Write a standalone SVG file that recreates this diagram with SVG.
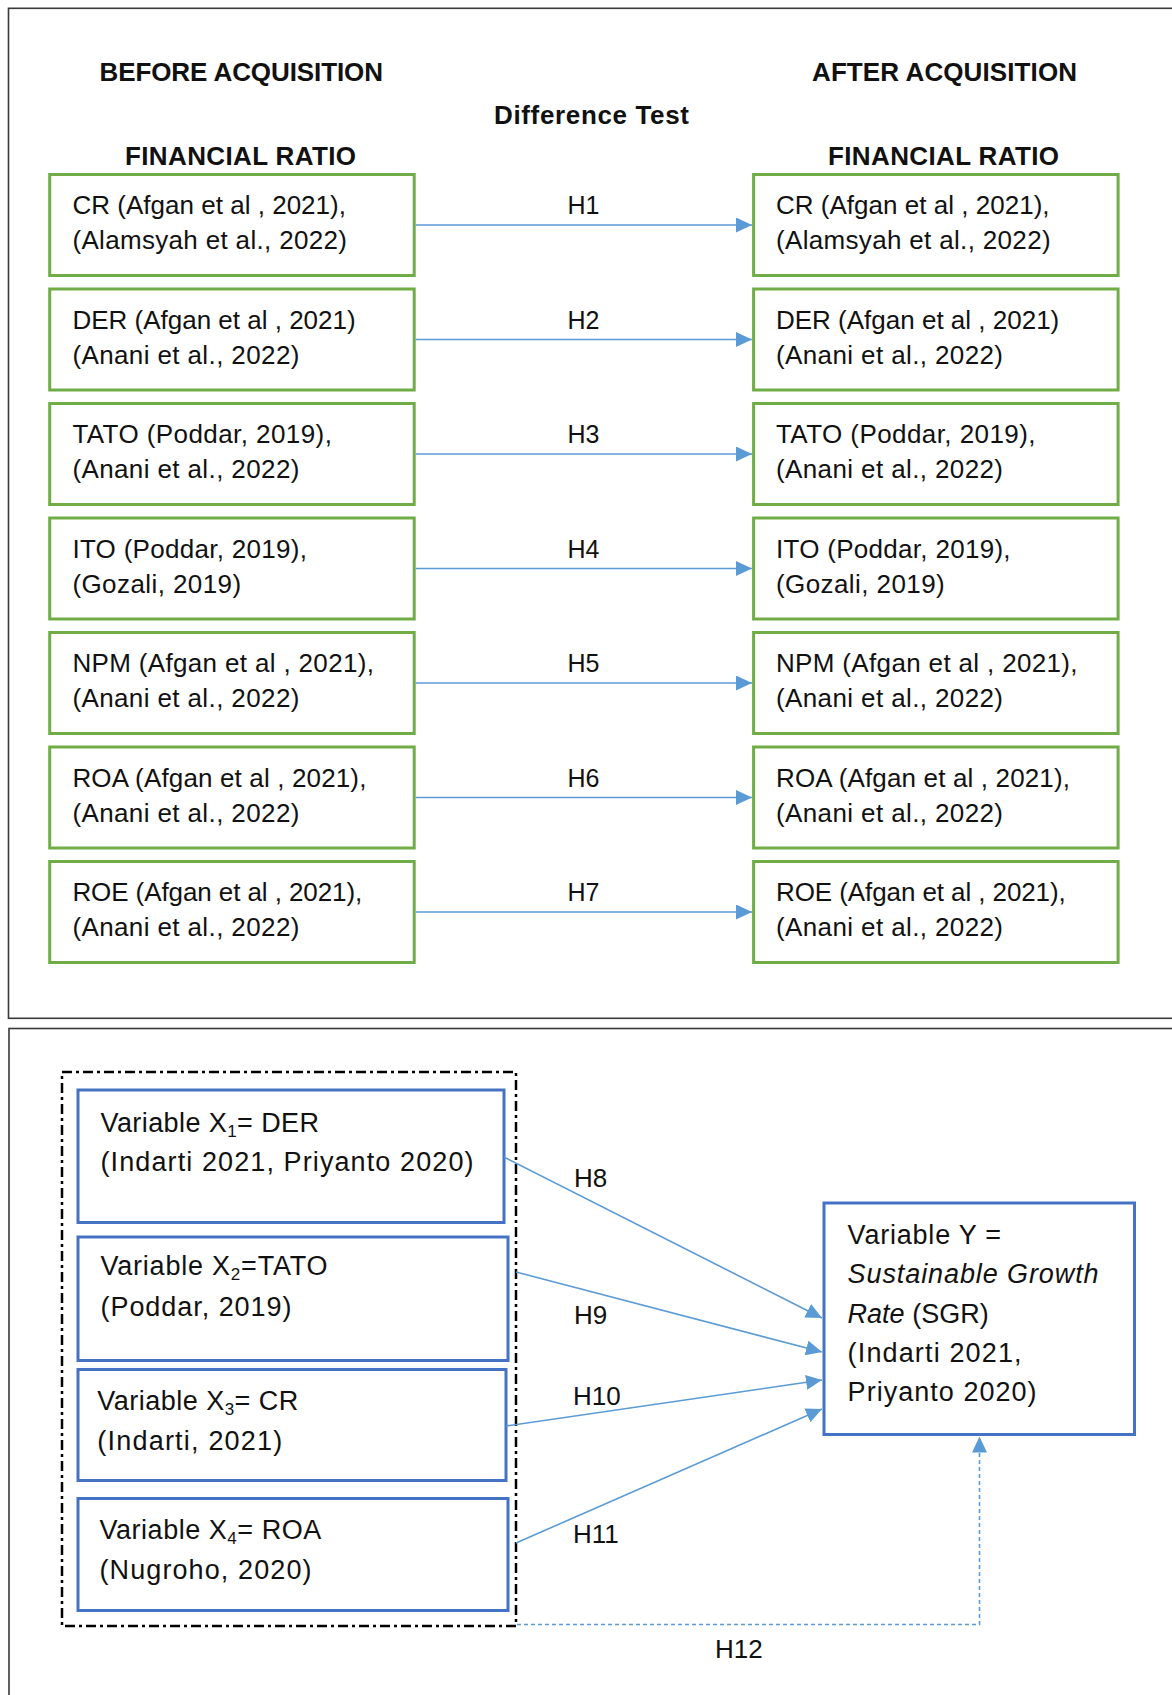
<svg xmlns="http://www.w3.org/2000/svg" width="1172" height="1695" viewBox="0 0 1172 1695">
<style>
 text { font-family: "Liberation Sans", Arial, sans-serif; fill:#111; }
 .title { font-size:26px; font-weight:bold; }
 .gt { font-size:26px; }
 .bt { font-size:27px; }
 .hl { font-size:25px; }
 .hb { font-size:26px; }
 .it { font-style:italic; }
 .gbox { fill:#fff; stroke:#70AD47; stroke-width:3; }
 .bbox { fill:#fff; stroke:#4472C4; stroke-width:3; }
 .frame { fill:none; stroke:#3a3a3a; stroke-width:1.6; }
 .conn { stroke:#5B9BD5; stroke-width:1.6; fill:none; marker-end:url(#arr); }
 .dashed { stroke-dasharray:4 3; }
 .grp { fill:none; stroke:#000; stroke-width:2.5; stroke-dasharray:10 4 3 4; }
</style>
<defs>
 <marker id="arr" viewBox="0 0 16 15" refX="16" refY="7.5" markerWidth="16" markerHeight="15" markerUnits="userSpaceOnUse" orient="auto">
  <path d="M0,0 L16,7.5 L0,15 z" fill="#5B9BD5"/>
 </marker>
</defs>
<rect width="1172" height="1695" fill="#fff"/>

<g id="frames">
 <rect class="frame" x="8.5" y="8.3" width="1300" height="1010"/>
 <rect class="frame" x="9" y="1028.5" width="1300" height="800"/>
</g>

<g id="headings">
 <text class="title" x="99.5" y="81" textLength="283.5">BEFORE ACQUISITION</text>
 <text class="title" x="812" y="81" textLength="265">AFTER ACQUISITION</text>
 <text class="title" x="494" y="124" textLength="195">Difference Test</text>
 <text class="title" x="125" y="165" textLength="231">FINANCIAL RATIO</text>
 <text class="title" x="828" y="165" textLength="231">FINANCIAL RATIO</text>
</g>

<!-- before boxes -->
<g id="before-cr"><rect class="gbox" x="49.7" y="174.5" width="364.5" height="101"/>
 <text class="gt" x="72.4" y="214" textLength="273.6">CR (Afgan et al , 2021),</text><text class="gt" x="72.4" y="249" textLength="274.6">(Alamsyah et al., 2022)</text></g>
<g id="before-der"><rect class="gbox" x="49.7" y="289" width="364.5" height="101"/>
 <text class="gt" x="72.4" y="328.5">DER (Afgan et al , 2021)</text><text class="gt" x="72.4" y="363.5" textLength="227">(Anani et al., 2022)</text></g>
<g id="before-tato"><rect class="gbox" x="49.7" y="403.5" width="364.5" height="101"/>
 <text class="gt" x="72.4" y="443" textLength="259.5">TATO (Poddar, 2019),</text><text class="gt" x="72.4" y="478" textLength="227">(Anani et al., 2022)</text></g>
<g id="before-ito"><rect class="gbox" x="49.7" y="518" width="364.5" height="101"/>
 <text class="gt" x="72.4" y="557.5" textLength="234.6">ITO (Poddar, 2019),</text><text class="gt" x="72.4" y="592.5" textLength="168.7">(Gozali, 2019)</text></g>
<g id="before-npm"><rect class="gbox" x="49.7" y="632.5" width="364.5" height="101"/>
 <text class="gt" x="72.4" y="672" textLength="301.6">NPM (Afgan et al , 2021),</text><text class="gt" x="72.4" y="707" textLength="227">(Anani et al., 2022)</text></g>
<g id="before-roa"><rect class="gbox" x="49.7" y="747" width="364.5" height="101"/>
 <text class="gt" x="72.4" y="786.5" textLength="294">ROA (Afgan et al , 2021),</text><text class="gt" x="72.4" y="821.5" textLength="227">(Anani et al., 2022)</text></g>
<g id="before-roe"><rect class="gbox" x="49.7" y="861.5" width="364.5" height="101"/>
 <text class="gt" x="72.4" y="901" textLength="289.8">ROE (Afgan et al , 2021),</text><text class="gt" x="72.4" y="936" textLength="227">(Anani et al., 2022)</text></g>

<!-- after boxes -->
<g id="after-cr"><rect class="gbox" x="753.6" y="174.5" width="364.5" height="101"/>
 <text class="gt" x="776" y="214" textLength="273.6">CR (Afgan et al , 2021),</text><text class="gt" x="776" y="249" textLength="274.6">(Alamsyah et al., 2022)</text></g>
<g id="after-der"><rect class="gbox" x="753.6" y="289" width="364.5" height="101"/>
 <text class="gt" x="776" y="328.5">DER (Afgan et al , 2021)</text><text class="gt" x="776" y="363.5" textLength="227">(Anani et al., 2022)</text></g>
<g id="after-tato"><rect class="gbox" x="753.6" y="403.5" width="364.5" height="101"/>
 <text class="gt" x="776" y="443" textLength="259.5">TATO (Poddar, 2019),</text><text class="gt" x="776" y="478" textLength="227">(Anani et al., 2022)</text></g>
<g id="after-ito"><rect class="gbox" x="753.6" y="518" width="364.5" height="101"/>
 <text class="gt" x="776" y="557.5" textLength="234.6">ITO (Poddar, 2019),</text><text class="gt" x="776" y="592.5" textLength="168.7">(Gozali, 2019)</text></g>
<g id="after-npm"><rect class="gbox" x="753.6" y="632.5" width="364.5" height="101"/>
 <text class="gt" x="776" y="672" textLength="301.6">NPM (Afgan et al , 2021),</text><text class="gt" x="776" y="707" textLength="227">(Anani et al., 2022)</text></g>
<g id="after-roa"><rect class="gbox" x="753.6" y="747" width="364.5" height="101"/>
 <text class="gt" x="776" y="786.5" textLength="294">ROA (Afgan et al , 2021),</text><text class="gt" x="776" y="821.5" textLength="227">(Anani et al., 2022)</text></g>
<g id="after-roe"><rect class="gbox" x="753.6" y="861.5" width="364.5" height="101"/>
 <text class="gt" x="776" y="901" textLength="289.8">ROE (Afgan et al , 2021),</text><text class="gt" x="776" y="936" textLength="227">(Anani et al., 2022)</text></g>

<!-- bottom nodes -->
<g id="independent-group"><rect class="grp" x="62" y="1072" width="454" height="554"/></g>
<g id="x1"><rect class="bbox" x="78" y="1090" width="426" height="132.5"/>
 <text class="bt" x="100.5" y="1131.5" textLength="218.5">Variable X<tspan font-size="17" dy="5">1</tspan><tspan dy="-5">= DER</tspan></text>
 <text class="bt" x="100.5" y="1171" textLength="373">(Indarti 2021, Priyanto 2020)</text></g>
<g id="x2"><rect class="bbox" x="78" y="1237" width="430" height="123.5"/>
 <text class="bt" x="100.5" y="1275" textLength="227">Variable X<tspan font-size="17" dy="5">2</tspan><tspan dy="-5">=TATO</tspan></text>
 <text class="bt" x="100.5" y="1316" textLength="191">(Poddar, 2019)</text></g>
<g id="x3"><rect class="bbox" x="78" y="1369.5" width="428" height="111"/>
 <text class="bt" x="97.3" y="1410" textLength="201">Variable X<tspan font-size="17" dy="5">3</tspan><tspan dy="-5">= CR</tspan></text>
 <text class="bt" x="97.3" y="1450" textLength="185">(Indarti, 2021)</text></g>
<g id="x4"><rect class="bbox" x="78" y="1498.5" width="430" height="112"/>
 <text class="bt" x="99.5" y="1539" textLength="221.7">Variable X<tspan font-size="17" dy="5">4</tspan><tspan dy="-5">= ROA</tspan></text>
 <text class="bt" x="99.5" y="1579" textLength="212">(Nugroho, 2020)</text></g>
<g id="y"><rect class="bbox" x="824" y="1203" width="310.5" height="231.5"/>
 <text class="bt" x="847.6" y="1243.5" textLength="153.5">Variable Y =</text>
 <text class="bt it" x="847.6" y="1283" textLength="251">Sustainable Growth</text>
 <text class="bt" x="847.6" y="1322.5"><tspan class="it">Rate</tspan> (SGR)</text>
 <text class="bt" x="847.6" y="1362" textLength="174">(Indarti 2021,</text>
 <text class="bt" x="847.6" y="1401" textLength="189">Priyanto 2020)</text></g>

<g id="connectors">
 <line class="conn" x1="415.7" y1="225" x2="752" y2="225"/>
 <line class="conn" x1="415.7" y1="339.5" x2="752" y2="339.5"/>
 <line class="conn" x1="415.7" y1="454" x2="752" y2="454"/>
 <line class="conn" x1="415.7" y1="568.5" x2="752" y2="568.5"/>
 <line class="conn" x1="415.7" y1="683" x2="752" y2="683"/>
 <line class="conn" x1="415.7" y1="797.5" x2="752" y2="797.5"/>
 <line class="conn" x1="415.7" y1="912" x2="752" y2="912"/>
 <line class="conn" x1="504" y1="1157" x2="822" y2="1318"/>
 <line class="conn" x1="516" y1="1272" x2="822" y2="1352"/>
 <line class="conn" x1="506" y1="1426" x2="822" y2="1380"/>
 <line class="conn" x1="516" y1="1543" x2="822" y2="1409"/>
 <path class="conn dashed" d="M517,1624.5 L979.5,1624.5 L979.5,1436.5"/>
 <g id="connector-labels">
  <text class="hl" x="567.5" y="214">H1</text>
  <text class="hl" x="567.5" y="328.5">H2</text>
  <text class="hl" x="567.5" y="443">H3</text>
  <text class="hl" x="567.5" y="557.5">H4</text>
  <text class="hl" x="567.5" y="672">H5</text>
  <text class="hl" x="567.5" y="786.5">H6</text>
  <text class="hl" x="567.5" y="901">H7</text>
  <text class="hb" x="574" y="1187">H8</text>
  <text class="hb" x="574" y="1324">H9</text>
  <text class="hb" x="573" y="1405">H10</text>
  <text class="hb" x="573" y="1543">H11</text>
  <text class="hb" x="715" y="1658">H12</text>
 </g>
</g>
</svg>
